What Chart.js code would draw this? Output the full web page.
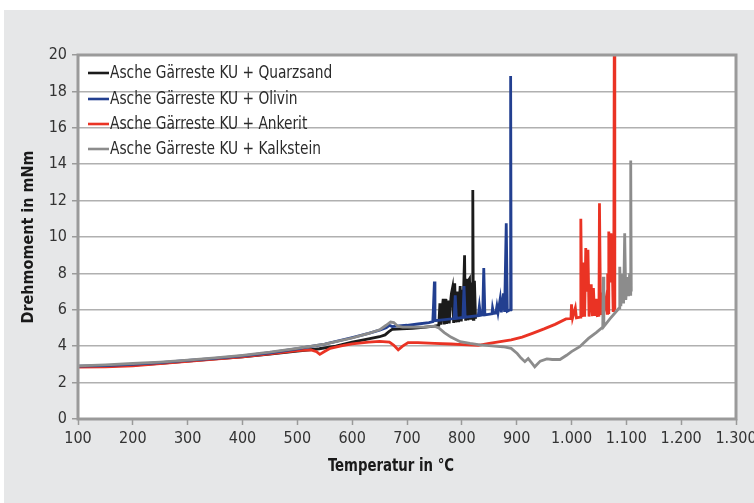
<!DOCTYPE html>
<html>
<head>
<meta charset="utf-8">
<script src="https://cdn.jsdelivr.net/npm/chart.js@4/dist/chart.umd.min.js"></script>
<style>
html,body{margin:0;padding:0;background:#fff;}
canvas{display:block;}
</style>
</head>
<body>
<canvas id="c" width="754" height="503"></canvas>
<script>
// ---- Data (temperature in °C, torque in mNm) ----
const seriesNames = [
  "Asche Gärreste KU + Quarzsand",
  "Asche Gärreste KU + Olivin",
  "Asche Gärreste KU + Ankerit",
  "Asche Gärreste KU + Kalkstein"
];
const seriesColors = ["#1b1b1b", "#223f90", "#ea3324", "#8c8c8c"];

const quarzT = [100,150,200,250,300,350,400,450,500,540,570,600,630,650,660,667,673,690,710,730,750,758,760,762,765,766,768,770,771,772,775,776,777,780,781,783,784,785,787,788,789,791,792,794,796,797,799,801,802,803,805,806,807,808,810,811,812,814,815,816,818,819,820,821,822,823,825];
const quarzV = [2.88,2.9,2.96,3.06,3.18,3.3,3.42,3.56,3.73,3.86,4.0,4.22,4.4,4.52,4.62,4.8,4.92,4.95,4.98,5.03,5.1,5.15,6.36,5.18,6.3,6.6,5.2,6.6,6.2,5.22,6.5,6.1,5.25,6.6,6.9,7.2,6.4,5.28,7.45,6.5,5.3,6.6,7.0,5.32,6.8,7.3,5.36,6.7,7.1,6.8,9.0,6.3,5.4,7.7,6.9,5.42,7.6,7.7,6.5,5.45,7.5,6.8,12.58,5.48,6.9,7.6,5.5];

const olivinT = [100,150,200,250,300,350,400,450,500,550,600,630,650,662,668,673,680,700,720,740,747,748,750,751,765,786,788,790,802,804,806,830,832,834,838,840,842,855,856,858,862,864,866,870,872,876,878,881,883,888,889,890];
const olivinV = [2.9,2.93,3.0,3.1,3.22,3.33,3.47,3.64,3.86,4.12,4.47,4.7,4.88,5.02,5.15,5.08,5.1,5.15,5.22,5.3,5.35,6.0,7.55,5.4,5.45,5.52,6.8,5.53,5.58,7.3,5.6,5.68,6.2,5.7,5.72,8.3,5.72,5.78,6.1,5.8,5.82,6.2,5.84,6.6,5.86,6.9,5.88,10.75,5.92,6.0,18.85,5.95];

const ankeritT = [100,150,200,250,300,350,400,450,500,525,535,541,548,560,580,600,630,650,668,676,684,692,702,720,750,780,810,830,850,870,890,910,930,950,970,990,999,1000,1002,1007,1009,1016,1017,1019,1022,1024,1026,1028,1030,1032,1036,1038,1040,1042,1045,1047,1050,1051,1053,1056,1058,1063,1065,1066,1067,1068,1070,1072,1074,1076,1077,1078,1079];
const ankeritV = [2.85,2.87,2.92,3.04,3.17,3.29,3.42,3.58,3.76,3.8,3.7,3.55,3.68,3.88,4.02,4.13,4.22,4.27,4.22,4.05,3.8,4.0,4.2,4.2,4.15,4.12,4.07,4.05,4.15,4.25,4.35,4.5,4.72,4.95,5.2,5.5,5.52,6.3,5.55,6.1,5.56,5.6,11.0,5.6,8.6,5.62,9.4,7.0,9.3,5.63,7.4,5.65,7.2,5.66,6.6,5.68,5.7,11.85,5.72,6.95,5.74,6.6,5.8,8.0,5.85,10.3,7.5,10.2,9.0,5.95,6.0,21,6.0];

const kalkT = [100,150,200,250,300,350,400,450,500,550,600,630,650,662,670,676,683,692,710,730,750,758,768,780,797,815,833,855,875,890,901,908,915,921,927,933,943,955,965,979,991,1000,1015,1031,1045,1057,1058,1059,1070,1080,1087,1088,1090,1093,1095,1097,1099,1102,1104,1106,1107,1108,1109];
const kalkV = [2.92,2.97,3.05,3.13,3.24,3.36,3.5,3.67,3.88,4.12,4.45,4.7,4.9,5.15,5.33,5.3,5.1,5.05,5.05,5.05,5.1,5.0,4.75,4.5,4.25,4.15,4.07,4.02,3.97,3.88,3.6,3.35,3.15,3.32,3.1,2.87,3.18,3.3,3.27,3.27,3.5,3.7,3.97,4.43,4.75,5.05,7.82,5.08,5.5,5.85,6.1,8.37,6.2,7.96,6.35,10.2,6.55,7.8,6.75,8.0,6.85,14.2,7.0];

const xTicks = [100,200,300,400,500,600,700,800,900,1000,1100,1200,1300];
const yTicks = [0,2,4,6,8,10,12,14,16,18,20];
const xTitle = "Temperatur in °C";
const yTitle = "Drehmoment in mNm";

// ---- build datasets ----
function pts(T, V){ return T.map((t,i)=>({x:t, y:V[i]})); }
const seriesData = [pts(quarzT,quarzV), pts(olivinT,olivinV), pts(ankeritT,ankeritV), pts(kalkT,kalkV)];
const drawOrder = [3, 1, 2, 0]; // lower order drawn on top
const datasets = seriesNames.map((n,i)=>({
  label:n, data:seriesData[i], borderColor:seriesColors[i], backgroundColor:seriesColors[i],
  borderWidth:2.8, pointRadius:0, showLine:true, tension:0, fill:false, order:drawOrder[i],
  borderJoinStyle:'miter'
}));

const FONT = '"Liberation Sans Narrow","Arial Narrow","DejaVu Sans Condensed",sans-serif';

const bgPlugin = {
  id:'bg',
  beforeDraw(chart){
    const {ctx, chartArea:a} = chart;
    ctx.save();
    ctx.fillStyle='#ffffff'; ctx.fillRect(0,0,chart.width,chart.height);
    ctx.fillStyle='#e6e7e8'; ctx.fillRect(4,10,chart.width-4,chart.height-10);
    ctx.fillStyle='#ffffff'; ctx.fillRect(a.left,a.top,a.right-a.left,a.bottom-a.top);
    ctx.restore();
  },
  afterDatasetsDraw(chart){
    const {ctx, chartArea:a} = chart;
    ctx.save();
    ctx.strokeStyle='#9a9a9a'; ctx.lineWidth=3;
    ctx.strokeRect(a.left,a.top,a.right-a.left,a.bottom-a.top);
    // legend inside plot area
    ctx.font='17px '+FONT;
    ctx.textBaseline='middle';
    const rows=[73,99,124,149];
    seriesNames.forEach((n,i)=>{
      const y=rows[i];
      ctx.strokeStyle=seriesColors[i]; ctx.lineWidth=2.6;
      ctx.beginPath(); ctx.moveTo(a.left+10,y); ctx.lineTo(a.left+31,y); ctx.stroke();
      ctx.fillStyle='#2a2a2a';
      ctx.save();
      ctx.translate(a.left+32,y+1);
      ctx.scale(0.9,1);
      ctx.fillText(n,0,0);
      ctx.restore();
    });
    // x axis title
    ctx.save();
    ctx.font='bold 17px '+FONT;
    ctx.fillStyle='#1a1a1a';
    ctx.textAlign='center';
    ctx.textBaseline='middle';
    ctx.translate(391,467);
    ctx.scale(0.87,1);
    ctx.fillText(xTitle,0,0);
    ctx.restore();
    ctx.restore();
  }
};

function fmt(v){
  const s=String(v);
  return v>=1000 ? s.slice(0,s.length-3)+'.'+s.slice(-3) : s;
}

new Chart(document.getElementById('c'),{
  type:'scatter',
  data:{datasets},
  plugins:[bgPlugin],
  options:{
    responsive:false, animation:false, devicePixelRatio:1,
    layout:{padding:{top:55,right:18,left:0,bottom:0}},
    plugins:{legend:{display:false}, tooltip:{enabled:false}},
    scales:{
      x:{
        type:'linear', min:100, max:1300,
        afterBuildTicks(s){ s.ticks = xTicks.map(v=>({value:v})); },
        afterFit(s){ s.height=84; s.paddingLeft=0; s.paddingRight=0; },
        border:{display:false},
        grid:{drawOnChartArea:false, drawTicks:true, tickLength:6, tickColor:'#9a9a9a', tickWidth:1.5},
        ticks:{padding:4, color:'#333', font:{family:FONT, size:16}, callback:v=>fmt(v), maxRotation:0, autoSkip:false},
        title:{display:false}
      },
      y:{
        type:'linear', min:0, max:20,
        afterBuildTicks(s){ s.ticks = yTicks.map(v=>({value:v})); },
        afterFit(s){ s.width=78; s.paddingTop=0; s.paddingBottom=0; },
        border:{display:false},
        grid:{color:'#b0b0b0', lineWidth:1.5, drawTicks:true, tickLength:6, tickColor:'#9a9a9a', tickWidth:1.5},
        ticks:{padding:5, color:'#333', font:{family:FONT, size:16}},
        title:{display:true, text:yTitle, color:'#1a1a1a', font:{family:FONT, size:16, weight:'bold'}, padding:{top:19,bottom:0}}
      }
    }
  }
});
</script>
</body>
</html>
